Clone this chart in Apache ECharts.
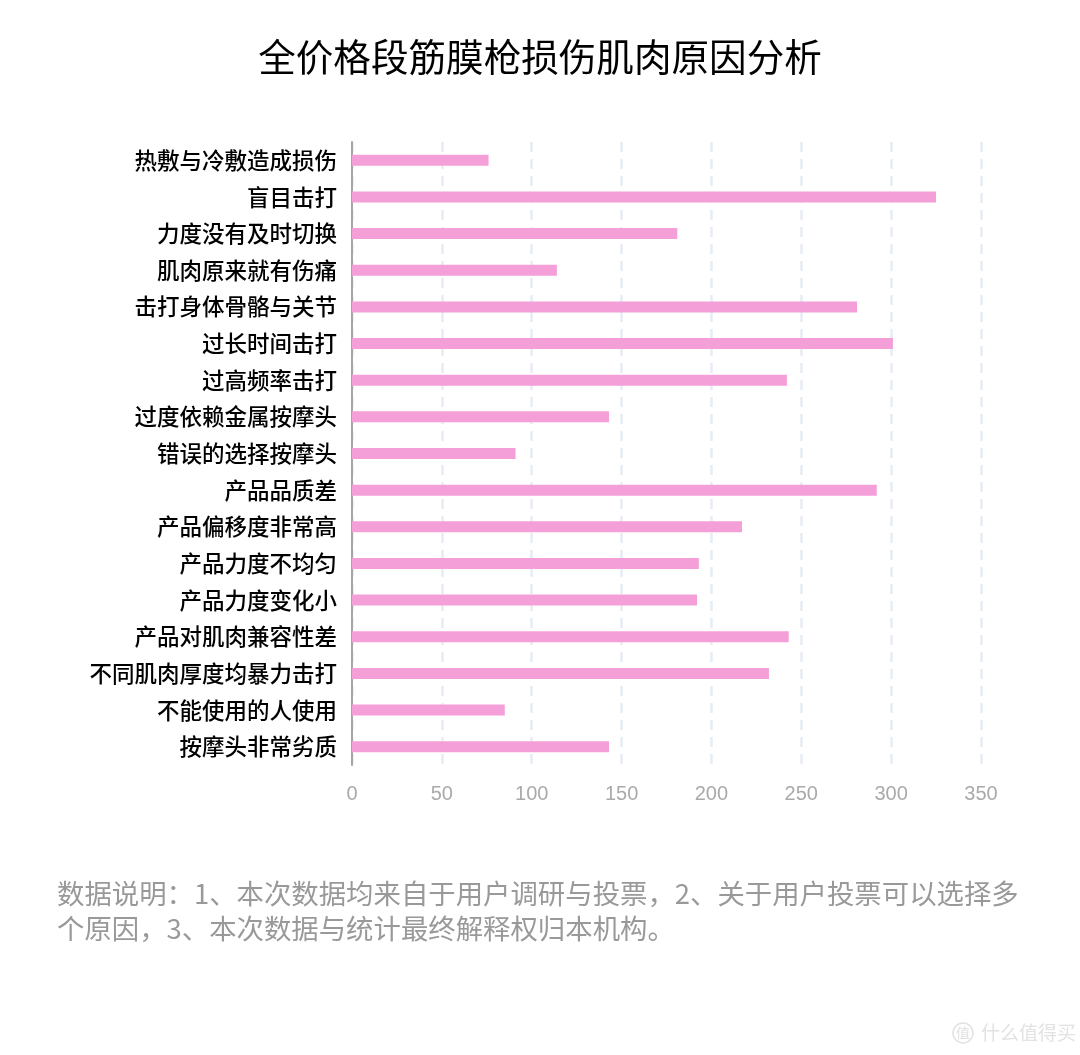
<!DOCTYPE html>
<html><head><meta charset="utf-8">
<style>html,body{margin:0;padding:0;background:#fff}#c{width:1080px;height:1055px}</style>
<script src="https://cdn.jsdelivr.net/npm/echarts@6/dist/echarts.min.js"></script>
</head><body><div id="c"></div>
<script>
const categories = ['热敷与冷敷造成损伤','盲目击打','力度没有及时切换','肌肉原来就有伤痛','击打身体骨骼与关节','过长时间击打','过高频率击打','过度依赖金属按摩头','错误的选择按摩头','产品品质差','产品偏移度非常高','产品力度不均匀','产品力度变化小','产品对肌肉兼容性差','不同肌肉厚度均暴力击打','不能使用的人使用','按摩头非常劣质'];
const values = [76,325,181,114,281,301,242,143,91,292,217,193,192,243,232,85,143];
const titleText = '全价格段筋膜枪损伤肌肉原因分析';
const noteLines = ['数据说明：1、本次数据均来自于用户调研与投票，2、关于用户投票可以选择多','个原因，3、本次数据与统计最终解释权归本机构。'];
const cjk = '"Noto Sans CJK SC","Noto Sans",sans-serif';
const chart = echarts.init(document.getElementById('c'),null,{renderer:'canvas'});
chart.setOption({
  animation:false,
  backgroundColor:'#fff',
  title:{text:titleText,left:535,textAlign:'center',top:33,textStyle:{fontFamily:cjk,fontSize:37.6,fontWeight:'normal',color:'#000'}},
  grid:{left:352,right:99,top:142,bottom:290,containLabel:false},
  xAxis:{type:'value',min:0,max:350,interval:50,
    axisLine:{show:false},axisTick:{show:false},
    axisLabel:{color:'#aaa',fontSize:20,fontFamily:'Liberation Sans',margin:19},
    splitLine:{show:true,lineStyle:{color:'#e6ebf5',width:2.5,type:[10,7]}}},
  yAxis:{type:'category',inverse:true,data:categories,
    axisLine:{show:true,onZero:false,lineStyle:{color:'#a6a6a6',width:2}},axisTick:{show:false},
    axisLabel:{color:'#000',fontSize:22.5,fontWeight:500,fontFamily:cjk,margin:15},splitLine:{show:false}},
  series:[{type:'bar',data:values,barWidth:11,itemStyle:{color:'#f59fd8'},silent:true}],
  graphic:[
    {type:'text',left:57,top:876,style:{text:noteLines.join('\n'),fontFamily:cjk,fontSize:27.4,lineHeight:35,fill:'#999'}},
    {type:'text',left:981,top:1023,style:{text:'什么值得买',fontFamily:cjk,fontSize:19,fill:'#e2e2e2'}},
    {type:'circle',shape:{cx:963,cy:1033,r:10},style:{fill:'none',stroke:'#e2e2e2',lineWidth:1.5}},
    {type:'text',x:963,y:1033,style:{text:'值',fontFamily:cjk,fontSize:14,fill:'#e2e2e2',align:'center',verticalAlign:'middle'}}
  ]
});
</script></body></html>
